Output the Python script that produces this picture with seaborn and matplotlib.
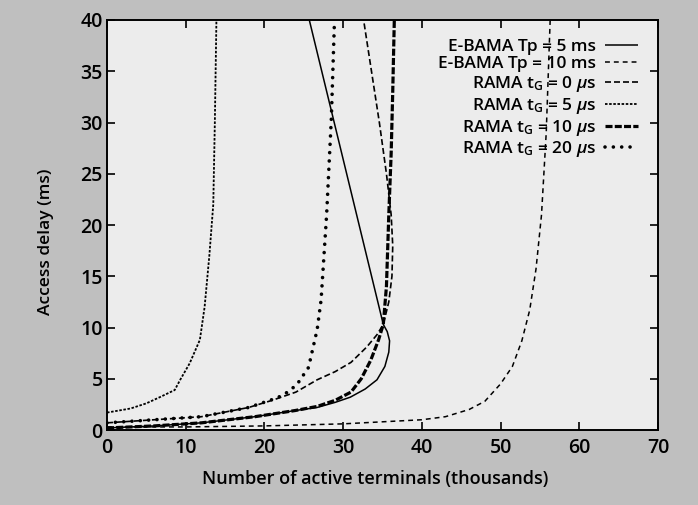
import matplotlib
matplotlib.use("Agg")
import matplotlib.pyplot as plt
import seaborn as sns
import pandas as pd

# ---- data (x: thousands of terminals, y: ms) ----
ebama5_x = [0, 6, 12, 18.8, 23.9, 26.7, 29, 30.9, 32.8, 34.3, 35.3, 35.8, 35.9, 35.6, 35.1, 25.7]
ebama5_y = [0.2, 0.4, 0.7, 1.3, 1.9, 2.2, 2.7, 3.2, 4.0, 4.9, 6.2, 7.6, 8.7, 9.6, 10.3, 40]

ebama10_x = [0, 10, 20, 30, 35, 40, 43, 46, 48, 50, 51.5, 52.7, 53.7, 54.5, 55.2, 55.8, 56.3]
ebama10_y = [0.3, 0.3, 0.4, 0.6, 0.8, 1.0, 1.3, 2.0, 2.8, 4.5, 6.2, 8.7, 11.7, 15.7, 21, 29, 40]

rama0_x = [0, 6, 12, 18, 21, 24, 26.7, 29, 31, 33, 34.3, 35.1, 35.8, 36.2, 36.3, 36.1, 35.5, 34.6, 33.6, 32.6]
rama0_y = [0.7, 1.0, 1.3, 2.2, 2.9, 3.7, 4.9, 5.7, 6.6, 8.1, 9.3, 10.3, 12.5, 15, 18, 21, 25, 30, 35, 40]

rama5_x = [0, 3, 5, 6.7, 8.6, 9.3, 10.5, 11.8, 12.4, 13.0, 13.5, 13.7, 13.9]
rama5_y = [1.7, 2.1, 2.6, 3.2, 3.9, 4.9, 6.5, 8.8, 12, 17, 22, 30, 40]

rama10_x = [0, 6, 12, 18.8, 23.9, 26.7, 29, 31.0, 32.3, 33.5, 34.5, 35.1, 35.5, 35.8, 36.1, 36.3, 36.5]
rama10_y = [0.2, 0.4, 0.7, 1.3, 1.9, 2.3, 2.9, 3.7, 5.0, 6.8, 8.8, 10.3, 14, 21, 27, 33, 40]

rama20_x = [0, 6, 12, 18, 21.1, 22.4, 24.1, 25.6, 26.7, 27.2, 27.9, 28.5, 28.9]
rama20_y = [0.7, 1.0, 1.3, 2.2, 3.0, 3.4, 4.4, 6.1, 9.8, 12.7, 21, 30.4, 40]

labels = [
    "E-BAMA Tp = 5 ms",
    "E-BAMA Tp = 10 ms",
    r"RAMA t$_\mathrm{G}$ = 0 $\mu$s",
    r"RAMA t$_\mathrm{G}$ = 5 $\mu$s",
    r"RAMA t$_\mathrm{G}$ = 10 $\mu$s",
    r"RAMA t$_\mathrm{G}$ = 20 $\mu$s",
]
xticks = [0, 10, 20, 30, 40, 50, 60, 70]
yticks = [0, 5, 10, 15, 20, 25, 30, 35, 40]

series = [
    (ebama5_x, ebama5_y),
    (ebama10_x, ebama10_y),
    (rama0_x, rama0_y),
    (rama5_x, rama5_y),
    (rama10_x, rama10_y),
    (rama20_x, rama20_y),
]
styles = [
    dict(lw=1.1, ls="-", cap="butt"),
    dict(lw=1.1, ls=(0, (3.2, 2.6)), cap="butt"),
    dict(lw=1.2, ls=(0, (3.6, 1.8)), cap="butt"),
    dict(lw=1.3, ls=(0, (1.4, 0.9)), cap="butt"),
    dict(lw=2.3, ls=(0, (2.2, 0.7)), cap="butt"),
    dict(lw=2.6, ls=(0, (0.01, 2.3)), cap="round"),
]

sns.set_theme(style="ticks")
plt.rcParams["font.family"] = ["Open Sans", "DejaVu Sans"]
plt.rcParams["font.weight"] = "semibold"
plt.rcParams["text.color"] = "black"
plt.rcParams["axes.labelcolor"] = "black"
plt.rcParams["mathtext.fontset"] = "custom"
plt.rcParams["mathtext.rm"] = "Open Sans:semibold"
plt.rcParams["mathtext.it"] = "Open Sans:italic:semibold"

fig = plt.figure(figsize=(6.98, 5.05), dpi=100, facecolor="#bfbfbf")
ax = fig.add_axes([0.1533, 0.1485, 0.7894, 0.8119])
ax.set_facecolor("#ececec")

handles = []
for (xs, ys), st, lab in zip(series, styles, labels):
    df = pd.DataFrame({"x": xs, "y": ys})
    sns.lineplot(data=df, x="x", y="y", ax=ax, sort=False, estimator=None,
                 color="black", linewidth=st["lw"])
    line = ax.lines[-1]
    line.set_linestyle(st["ls"])
    line.set_dash_capstyle(st["cap"])
    line.set_solid_capstyle("butt")
    line.set_label(lab)
    handles.append(line)

ax.set_xlim(0, 70)
ax.set_ylim(0, 40)
ax.set_xticks(xticks)
ax.set_yticks(yticks)
ax.tick_params(direction="in", length=6, width=1.2, top=True, right=True,
               labelsize=14, colors="black")
ax.tick_params(axis="x", pad=6)
ax.tick_params(axis="y", pad=3)
for t in ax.get_xticklabels() + ax.get_yticklabels():
    t.set_fontweight("semibold")
for sp in ax.spines.values():
    sp.set_linewidth(1.4)
    sp.set_color("black")

ax.set_xlabel("Number of active terminals (thousands)", fontsize=13,
              color="black", fontweight="semibold")
ax.set_ylabel("Access delay (ms)", fontsize=12.5, color="black",
              fontweight="semibold")
ax.xaxis.set_label_coords(0.487, -0.098)
ax.yaxis.set_label_coords(-0.097, 0.46)

ax.legend(handles=handles, labels=labels, loc="upper right",
          bbox_to_anchor=(0.963, 0.955), frameon=False, markerfirst=False,
          prop={"size": 12.5, "weight": "semibold"}, labelcolor="black",
          handlelength=1.9, handletextpad=0.5,
          labelspacing=0.1, borderaxespad=0, borderpad=0)

fig.savefig("out.png", dpi=100, facecolor=fig.get_facecolor())
